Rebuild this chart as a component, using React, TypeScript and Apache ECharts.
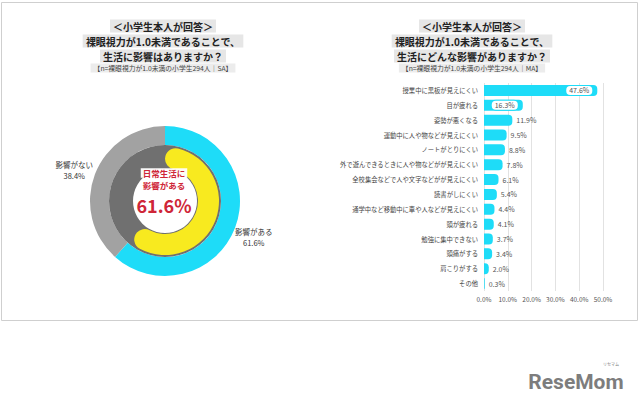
import React, { useEffect, useRef } from 'react';
import * as echarts from 'echarts';

const pieNames = ['影響がある', '影響がない'];
const pieValues = [61.6, 38.4];
const centerLabelLines = ['日常生活に', '影響がある'];

const leftTitleLines = ['＜小学生本人が回答＞', '裸眼視力が1.0未満であることで、', '生活に影響はありますか？'];
const leftSubtitle = '【n=裸眼視力が1.0未満の小学生294人｜SA】';
const rightTitleLines = ['＜小学生本人が回答＞', '裸眼視力が1.0未満であることで、', '生活にどんな影響がありますか？'];
const rightSubtitle = '【n=裸眼視力が1.0未満の小学生294人｜MA】';

const categories = [
  '授業中に黒板が見えにくい',
  '目が疲れる',
  '姿勢が悪くなる',
  '運動中に人や物などが見えにくい',
  'ノートがとりにくい',
  '外で遊んできるときに人や物などがが見えにくい',
  '全校集会などで人や文字などがが見えにくい',
  '読書がしにくい',
  '通学中など移動中に車や人などが見えにくい',
  '頭が疲れる',
  '勉強に集中できない',
  '頭痛がする',
  '肩こりがする',
  'その他',
];
const values = [47.6, 16.3, 11.9, 9.5, 8.8, 7.8, 6.1, 5.4, 4.4, 4.1, 3.7, 3.4, 2.0, 0.3];
const xMin = 0;
const xMax = 50;
const xInterval = 10;

const FONT = '"Noto Sans CJK JP", "Noto Sans", sans-serif';
const CYAN = '#1edcf8';
const GRAY = '#a2a2a2';
const DARK = '#707070';
const YELLOW = '#f8ea1f';
const RED = '#cf2638';

function titleTexts(lines: string[], sub: string, cx: number) {
  const ys = [26, 41, 56];
  const els: any[] = lines.map((t, i) => ({
    type: 'text',
    z: 10,
    style: {
      text: t,
      x: cx,
      y: ys[i],
      align: 'center',
      verticalAlign: 'middle',
      fontSize: 10,
      fontWeight: 'bold',
      fontFamily: FONT,
      fill: '#222',
      backgroundColor: '#e6e6e6',
      padding: [2, 3, 1, 3],
    },
  }));
  els.push({
    type: 'text',
    z: 10,
    style: {
      text: sub,
      x: cx,
      y: 68,
      align: 'center',
      verticalAlign: 'middle',
      fontSize: 6.8,
      fontFamily: FONT,
      fill: '#444',
      backgroundColor: '#ececec',
      padding: [1, 3],
    },
  });
  return els;
}

export default function App() {
  const ref = useRef<HTMLDivElement>(null);
  useEffect(() => {
    document.body.style.margin = '0';
    const chart = echarts.init(ref.current!, null, { renderer: 'svg' });
    const barData = values.map((v, i) => {
      if (i < 2) {
        return {
          value: v,
          label: {
            position: 'insideRight',
            offset: [-1, 0],
            backgroundColor: '#fff',
            borderColor: CYAN,
            borderWidth: 1,
            borderRadius: 4,
            padding: [1, 3],
          },
        };
      }
      return { value: v };
    });
    const option: any = {
      animation: false,
      backgroundColor: '#fff',
      textStyle: { fontFamily: FONT },
      graphic: [
        {
          type: 'rect',
          z: -10,
          shape: { x: 1.5, y: 2.5, width: 636, height: 318 },
          style: { fill: '#fff', stroke: '#cfcfcf', lineWidth: 1 },
        },
        ...titleTexts(leftTitleLines, leftSubtitle, 163),
        ...titleTexts(rightTitleLines, rightSubtitle, 472),
        {
          type: 'text',
          z: 20,
          style: {
            text: centerLabelLines[0],
            x: 164,
            y: 173,
            align: 'center',
            verticalAlign: 'middle',
            fontSize: 8.5,
            fontWeight: 'bold',
            fontFamily: FONT,
            fill: RED,
            backgroundColor: 'rgba(255,255,255,0.95)',
            padding: [1, 2, 0, 2],
          },
        },
        {
          type: 'text',
          z: 20,
          style: {
            text: centerLabelLines[1],
            x: 164,
            y: 185,
            align: 'center',
            verticalAlign: 'middle',
            fontSize: 8.5,
            fontWeight: 'bold',
            fontFamily: FONT,
            fill: RED,
            backgroundColor: 'rgba(255,255,255,0.95)',
            padding: [1, 2, 0, 2],
          },
        },
        {
          type: 'text',
          z: 20,
          style: {
            text: pieValues[0].toFixed(1) + '%',
            x: 164,
            y: 205,
            align: 'center',
            verticalAlign: 'middle',
            fontSize: 18,
            fontWeight: 'bold',
            fontFamily: FONT,
            fill: RED,
          },
        },
        {
          type: 'text',
          z: 10,
          style: {
            text: 'ReseMom',
            x: 576,
            y: 382,
            align: 'center',
            verticalAlign: 'middle',
            fontSize: 21,
            fontWeight: 'bold',
            fontFamily: '"Liberation Sans Narrow", "Roboto", sans-serif',
            fill: '#7d7d7d',
          },
        },
        {
          type: 'text',
          z: 10,
          style: {
            text: 'リセマム',
            x: 611,
            y: 364,
            align: 'center',
            verticalAlign: 'middle',
            fontSize: 4,
            fontFamily: FONT,
            fill: '#7d7d7d',
          },
        },
      ],
      grid: { left: 484, right: 37, top: 83, bottom: 114 },
      xAxis: {
        type: 'value',
        min: xMin,
        max: xMax,
        interval: xInterval,
        axisLabel: {
          formatter: (v: number) => v.toFixed(1) + '%',
          fontSize: 6.5,
          color: '#555',
          margin: 5,
          fontFamily: FONT,
        },
        axisLine: { show: false },
        axisTick: { show: false },
        splitLine: { lineStyle: { color: '#e2e2e2', width: 1 } },
      },
      yAxis: {
        type: 'category',
        data: categories,
        inverse: true,
        axisLabel: { fontSize: 6.3, color: '#444', margin: 6, fontFamily: FONT },
        axisTick: { show: false },
        axisLine: { show: false },
      },
      series: [
        {
          type: 'bar',
          data: barData,
          barWidth: 11,
          itemStyle: { color: CYAN, borderRadius: [0, 4, 4, 0] },
          label: {
            show: true,
            position: 'right',
            distance: 4,
            formatter: (p: any) => Number(p.value).toFixed(1) + '%',
            fontSize: 7,
            color: '#555',
            fontFamily: FONT,
          },
          silent: true,
        },
        {
          type: 'pie',
          center: [165, 201],
          radius: [56, 75],
          startAngle: 90,
          clockwise: true,
          silent: true,
          data: pieNames.map((n, i) => ({
            name: n,
            value: pieValues[i],
            itemStyle: { color: i === 0 ? CYAN : GRAY },
          })),
          label: {
            show: true,
            position: 'outside',
            formatter: (p: any) => `${p.name}\n${Number(p.value).toFixed(1)}%`,
            fontSize: 7.5,
            lineHeight: 11,
            color: '#333',
            fontFamily: FONT,
          },
          labelLine: { show: false, length: 1, length2: 0 },
          labelLayout: (params: any) => {
            const r = params.labelRect;
            const right = r.x + r.width / 2 > 165;
            return {
              x: r.x + r.width / 2 + (right ? -6 : 4),
              y: r.y + r.height / 2 + (right ? 9 : -4),
              align: 'center',
              verticalAlign: 'middle',
            };
          },
        },
        {
          type: 'pie',
          center: [165, 201],
          radius: [32, 56],
          silent: true,
          data: [{ value: 100, itemStyle: { color: DARK } }],
          label: { show: false },
          labelLine: { show: false },
        },
        {
          type: 'pie',
          center: [165, 201],
          radius: [33, 54],
          startAngle: 90,
          clockwise: true,
          silent: true,
          data: [
            { value: pieValues[0], itemStyle: { color: YELLOW, borderRadius: 10.5 } },
            { value: pieValues[1], itemStyle: { color: 'rgba(0,0,0,0)' } },
          ],
          label: { show: false },
          labelLine: { show: false },
        },
      ],
    };
    chart.setOption(option);
    return () => chart.dispose();
  }, []);
  return <div ref={ref} style={{ width: 640, height: 405 }} />;
}
